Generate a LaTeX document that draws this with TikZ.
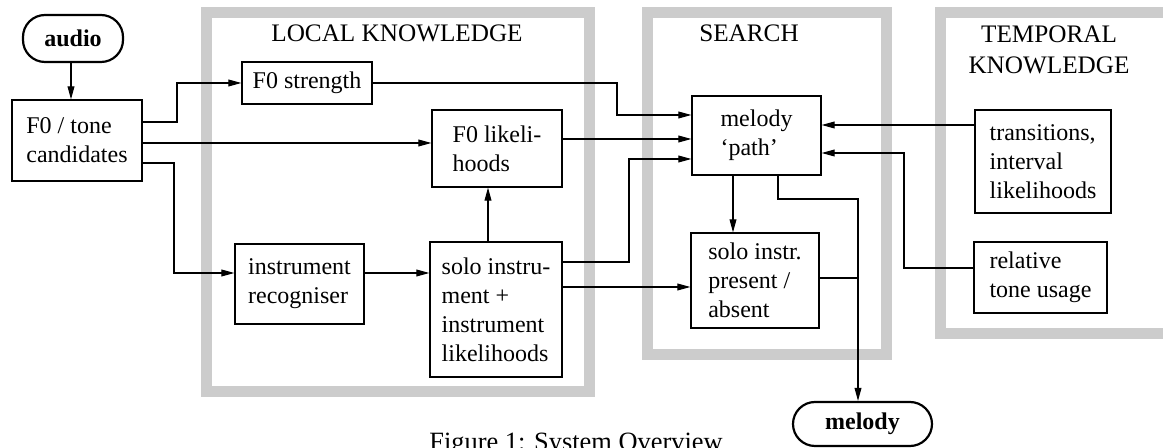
\documentclass[tikz,border=0pt]{standalone}
\usepackage{fontspec}
\setmainfont{Liberation Serif}
\usetikzlibrary{arrows.meta}
\definecolor{framegray}{HTML}{CCCCCC}
\tikzset{
  box/.style={draw, line width=0.6pt, align=left, inner sep=0pt, font=\fontsize{12}{14.5}\selectfont},
  term/.style={draw, line width=1.1pt, rounded corners=11pt, inner sep=0pt, font=\fontsize{12}{14.5}\selectfont\bfseries},
  arr/.style={line width=0.55pt, -{Triangle[length=6.5pt,width=3.4pt]}},
  conn/.style={line width=0.55pt},
  frame/.style={draw=framegray, line width=5.5pt},
  grouplabel/.style={inner sep=0pt, font=\fontsize{12.6}{15.5}\selectfont, align=center},
}
\begin{document}
\begin{tikzpicture}[x=0.5pt,y=-0.5pt]
\useasboundingbox (0,0) rectangle (1163,448);
% frames
\draw[frame] (206,13) rectangle (589,391.5);
\draw[frame] (647,13) rectangle (886,354.5);
\draw[frame] (1185,13) -- (940,13) -- (940,333.5) -- (1185,333.5);
\node[grouplabel, anchor=base] (lkl) at (397,42) {LOCAL KNOWLEDGE};
\node[grouplabel, anchor=base] (sl) at (749,42) {SEARCH};
\node[grouplabel, anchor=north] (tkl) at (1049,25.5) {TEMPORAL\\KNOWLEDGE};
% nodes
\node[term, minimum width=50pt, minimum height=23.5pt] (audio) at (73,38.5) {audio};
\node[box, minimum width=65pt, minimum height=40.5pt] (cand) at (77,140.5) {F0 / tone\\candidates};
\node[box, minimum width=65pt, minimum height=21pt] (fstr) at (307,83) {F0 strength};
\node[box, minimum width=65pt, minimum height=38.5pt] (flik) at (497,148.5) {F0 likeli-\\hoods};
\node[box, minimum width=64.5pt, minimum height=40pt] (irec) at (299.5,284) {instrument\\recogniser};
\node[box, minimum width=66pt, minimum height=67.5pt] (solo) at (496,309.5) {solo instru-\\ment +\\instrument\\likelihoods};
\node[box, minimum width=64.5pt, minimum height=39.5pt] (path) at (756.5,135.5) {melody\\`path'};
\node[box, minimum width=64pt, minimum height=47.5pt] (pres) at (755,280.5) {solo instr.\\present /\\absent};
\node[box, minimum width=68pt, minimum height=51.5pt] (trans) at (1043,161.5) {transitions,\\interval\\likelihoods};
\node[box, minimum width=66.5pt, minimum height=35.5pt] (rel) at (1040.5,277.5) {relative\\tone usage};
\node[term, minimum width=69.5pt, minimum height=22pt] (melody) at (862.5,424) {melody};
\coordinate (join) at (858,278);
% connectors
\draw[arr] (audio.south -| 71,0) -- (cand.north -| 71,0);
\draw[arr] (cand.east |- 0,122) -- (177,122) |- (fstr.west);
\draw[arr] (cand.east |- 0,143) -- (flik.west |- 0,143);
\draw[arr] (cand.east |- 0,163) -- (174,163) |- (irec.west |- 0,273);
\draw[arr] (fstr.east) -- (617,83) |- (path.west |- 0,115);
\draw[arr] (flik.east |- 0,139) -- (path.west |- 0,139);
\draw[arr] (solo.east |- 0,262) -- (629,262) |- (path.west |- 0,159);
\draw[arr] (solo.north -| 488,0) -- (flik.south -| 488,0);
\draw[arr] (irec.east |- 0,273) -- (solo.west |- 0,273);
\draw[arr] (solo.east |- 0,287) -- (pres.west |- 0,287);
\draw[arr] (path.south -| 733,0) -- (pres.north -| 733,0);
\draw[arr] (path.south -| 778,0) |- (858,199) -- (melody.north -| 858,0);
\draw[conn] (pres.east |- join) -- (join);
\draw[arr] (trans.west |- 0,125) -- (path.east |- 0,125);
\draw[arr] (rel.west |- 0,268) -- (904,268) |- (path.east |- 0,153);
% caption
\node[inner sep=0pt, anchor=base, font=\fontsize{13.2}{16}\selectfont] (cap) at (576,451) {Figure 1: System Overview};
\end{tikzpicture}
\end{document}
